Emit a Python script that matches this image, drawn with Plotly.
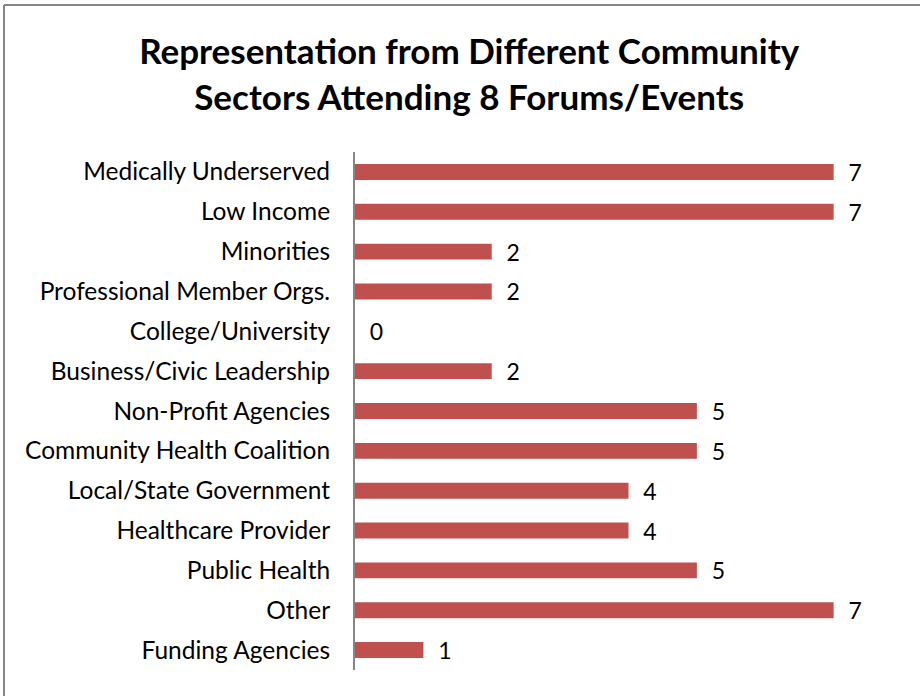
import plotly.graph_objects as go

categories = ["Medically Underserved", "Low Income", "Minorities", "Professional Member Orgs.",
              "College/University", "Business/Civic Leadership", "Non-Profit Agencies",
              "Community Health Coalition", "Local/State Government", "Healthcare Provider",
              "Public Health", "Other", "Funding Agencies"]
values = [7, 7, 2, 2, 0, 2, 5, 5, 4, 4, 5, 7, 1]

FONT = "Lato"
L, R, T, B = 355, 18, 152, 26
PW = 920 - L - R
PH = 696 - T - B

fig = go.Figure(go.Bar(
    x=values, y=categories, orientation="h",
    marker=dict(color="#C0504D", line=dict(width=0)),
    texttemplate="\u00a0\u00a0%{x}", textposition="outside",
    constraintext="none",
    textfont=dict(family=FONT, size=23, color="black"),
    cliponaxis=False,
    hoverinfo="skip",
))

fx = (4 - L) / PW
fy = (696 - B - 5) / PH

fig.update_layout(
    width=920, height=696,
    paper_bgcolor="white", plot_bgcolor="white",
    margin=dict(l=L, r=R, t=T, b=B),
    bargap=0.6,
    showlegend=False,
    title=dict(text="<b>Representation from Different Community<br>Sectors Attending 8 Forums/Events</b>",
               x=0.51, xanchor="center", y=1 - 64 / 696, yanchor="middle",
               font=dict(family=FONT, size=35, color="black")),
    font=dict(family=FONT, color="black"),
    xaxis=dict(range=[0, 8], visible=False, showgrid=False, zeroline=False),
    yaxis=dict(autorange="reversed", showline=True, linecolor="#868686", linewidth=2,
               ticks="", showgrid=False, ticklabelstandoff=18,
               tickfont=dict(family=FONT, size=24.5, color="black")),
    shapes=[dict(type="line", xref="paper", yref="paper",
                 x0=fx, x1=1.1, y0=fy, y1=fy,
                 line=dict(color="#868686", width=2)),
            dict(type="line", xref="paper", yref="paper",
                 x0=fx, x1=fx, y0=-0.2, y1=fy,
                 line=dict(color="#868686", width=2))],
)

fig.write_html("out.html", config={"displayModeBar": False},
               post_script="document.body.style.margin='0';")
